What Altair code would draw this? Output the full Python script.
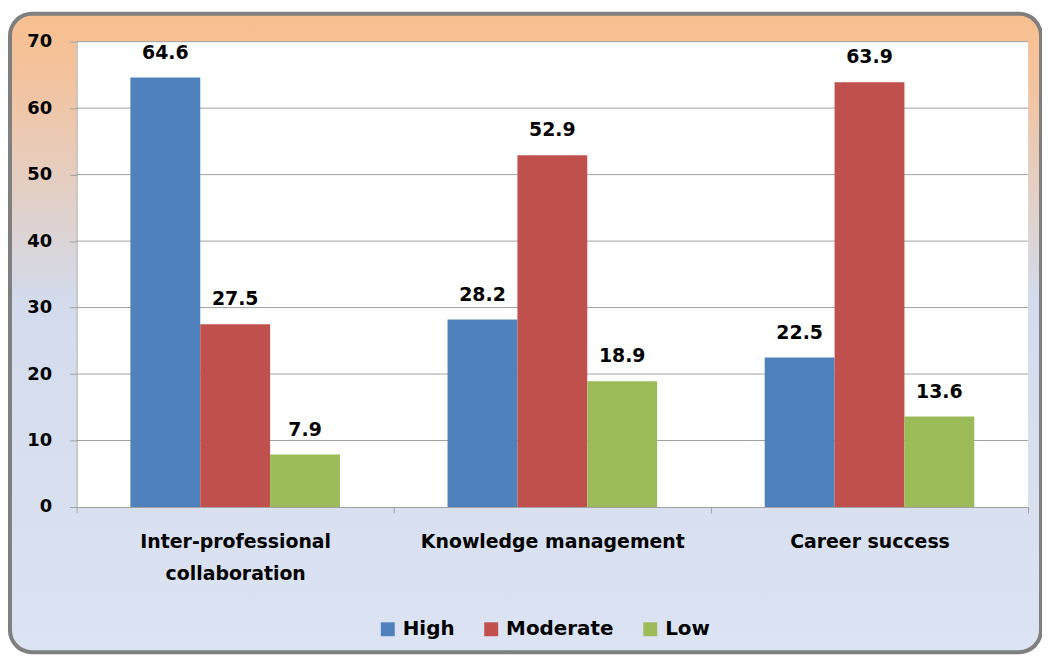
import altair as alt
import pandas as pd

categories = ["Inter-professional collaboration", "Knowledge management", "Career success"]
series = ["High", "Moderate", "Low"]
high = [64.6, 28.2, 22.5]
moderate = [27.5, 52.9, 63.9]
low = [7.9, 18.9, 13.6]
colors = ["#4F81BD", "#C0504D", "#9BBB59"]
y_grid = [10, 20, 30, 40, 50, 60, 70]

rows = []
for i, c in enumerate(categories):
    for s, vals in zip(series, [high, moderate, low]):
        rows.append({"Category": c, "Level": s, "Value": vals[i]})
df = pd.DataFrame(rows)

W, H = 957, 468
FONT = "DejaVu Sans"
GRAY = "#a0a0a0"

one = pd.DataFrame({"k": [0]})

bg = alt.Chart(one).mark_rect(
    fill=alt.LinearGradient(
        gradient="linear", x1=0, x2=0, y1=0, y2=1,
        stops=[
            alt.GradientStop(offset=0, color="#F8BF8E"),
            alt.GradientStop(offset=0.1, color="#F3C39E"),
            alt.GradientStop(offset=0.45, color="#D3DBEC"),
            alt.GradientStop(offset=1, color="#DCE4F3"),
        ],
    ),
    stroke="#7f7f7f", strokeWidth=4, cornerRadius=22,
).encode(x=alt.value(-67), x2=alt.value(970), y=alt.value(-28), y2=alt.value(614))

plot_bg = alt.Chart(one).mark_rect(fill="white").encode(
    x=alt.value(0), x2=alt.value(W), y=alt.value(0), y2=alt.value(H)
)

grid = alt.Chart(pd.DataFrame({"v": y_grid})).mark_rule(color=GRAY, strokeWidth=1).encode(
    y=alt.Y("v:Q", scale=alt.Scale(domain=[0, 70]), title=None)
)

x_enc = alt.X(
    "Category:N", sort=categories, title=None,
    scale=alt.Scale(paddingInner=0, paddingOuter=0),
    axis=alt.Axis(
        labelAngle=0, labelFont=FONT, labelFontSize=19, labelFontWeight="bold",
        labelColor="black", labelPadding=20, labelLineHeight=32,
        labelExpr="datum.label == 'Inter-professional collaboration' ? ['Inter-professional', 'collaboration'] : datum.label",
        tickBand="extent", tickSize=6, tickColor=GRAY, domainColor=GRAY,
        zindex=1, labelLimit=400,
    ),
)
xo_enc = alt.XOffset("Level:N", sort=series, scale=alt.Scale(paddingInner=0, paddingOuter=0.77))
y_enc = alt.Y(
    "Value:Q", scale=alt.Scale(domain=[0, 70]), title=None,
    axis=alt.Axis(
        values=[0, 10, 20, 30, 40, 50, 60, 70], grid=False,
        labelFont=FONT, labelFontSize=18, labelFontWeight="bold", labelColor="black",
        labelPadding=18, tickSize=7, tickColor=GRAY, domainColor=GRAY, zindex=1,
    ),
)

bars = alt.Chart(df).mark_bar().encode(
    x=x_enc, xOffset=xo_enc, y=y_enc,
    color=alt.Color(
        "Level:N", sort=series, scale=alt.Scale(domain=series, range=colors),
        legend=alt.Legend(
            title=None, orient="none", direction="horizontal", legendX=303, legendY=581,
            symbolType="square", symbolSize=196, symbolStrokeWidth=0, symbolOpacity=1,
            labelFont=FONT, labelFontSize=20, labelFontWeight="bold", labelColor="black",
            labelOffset=5, columnPadding=26, zindex=1,
        ),
    ),
)

labels = alt.Chart(df).mark_text(
    font=FONT, fontSize=19, fontWeight="bold", color="black", baseline="alphabetic", dy=-19
).encode(x=x_enc, xOffset=xo_enc, y=y_enc, text=alt.Text("Value:Q", format=".1f"))

chart = alt.layer(bg, plot_bg, grid, bars, labels).properties(
    width=W, height=H,
    padding={"left": 69, "top": 32, "right": 14, "bottom": 148},
    autosize=alt.AutoSizeParams(type="none"),
).configure_view(stroke=None)

chart.save("out.html", embed_options={"renderer": "svg", "actions": False})
